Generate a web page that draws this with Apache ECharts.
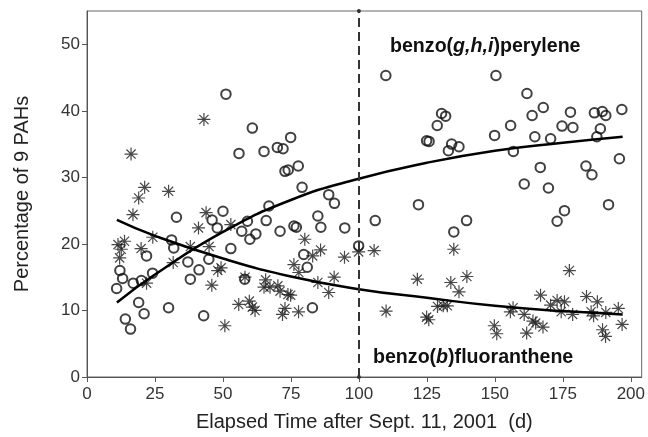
<!DOCTYPE html>
<html>
<head>
<meta charset="utf-8">
<script src="https://cdn.jsdelivr.net/npm/echarts@6/dist/echarts.min.js"></script>
<style>html,body{margin:0;padding:0;background:#fff}#c{width:648px;height:437px}</style>
</head>
<body>
<div id="c"></div>
<script>
const xTicks = [0, 25, 50, 75, 100, 125, 150, 175, 200];
const yTicks = [0, 10, 20, 30, 40, 50];
const cutoffDay = 100;

// benzo(g,h,i)perylene (open circles): [day, percent]
const perylene = [
[10.9,13.3],[12.1,16.0],[13.1,14.8],[14.1,8.7],[16.0,7.2],[17.0,14.1],[19.0,11.2],[20.0,14.5],[21.0,9.5],[21.9,18.2],[24.1,15.6],[30.0,10.4],[31.1,20.6],[31.9,19.4],[32.9,24.0],[37.1,17.3],[38.0,14.7],[41.2,16.1],[42.9,9.2],[44.8,17.7],[46.0,23.6],[47.9,22.4],[50.0,24.9],[51.1,42.5],[52.9,19.3],[55.9,33.6],[56.9,21.9],[58.0,14.7],[59.0,23.4],[59.9,20.7],[60.8,37.4],[62.1,21.5],[65.1,33.9],[65.9,23.5],[66.9,25.7],[70.0,34.5],[71.0,21.9],[72.1,34.3],[72.8,30.9],[74.0,31.1],[74.9,36.0],[76.1,22.7],[77.0,22.5],[77.7,31.7],[79.1,28.5],[79.7,18.4],[81.0,16.5],[82.9,10.4],[84.9,24.2],[86.0,22.5],[88.9,27.4],[91.0,26.1],[94.8,22.4],[99.9,19.7],[106.0,23.5],[109.9,45.3],[121.9,25.9],[124.9,35.5],[125.8,35.4],[128.8,37.8],[130.4,39.6],[131.9,39.2],[132.9,34.0],[134.1,35.0],[134.9,21.8],[136.8,34.6],[139.6,23.5],[149.9,36.3],[150.4,45.3],[155.8,37.8],[156.8,33.9],[160.8,29.0],[161.8,42.6],[163.7,39.3],[164.7,36.1],[166.7,31.5],[167.8,40.5],[169.7,28.4],[170.5,35.8],[172.9,23.4],[174.7,37.7],[175.6,25.0],[177.8,39.8],[178.7,37.5],[183.5,31.7],[185.7,30.4],[186.6,39.7],[187.5,36.1],[188.8,37.3],[189.5,39.9],[190.8,39.3],[191.8,25.9],[195.8,32.8],[196.7,40.2]
];

// benzo(b)fluoranthene (asterisks): [day, percent]
const fluoranthene = [
[11.4,19.9],[13.8,20.4],[12.6,19.2],[12.0,17.9],[16.2,33.5],[16.9,24.4],[19.0,26.9],[21.2,28.5],[19.9,19.3],[21.9,14.1],[24.2,21.0],[30.0,27.9],[31.7,17.2],[38.0,19.6],[41.0,22.4],[43.0,38.7],[43.8,24.7],[44.9,19.6],[45.9,13.8],[48.1,16.0],[49.3,16.4],[50.7,7.7],[52.9,22.9],[55.8,10.9],[58.1,15.0],[59.7,11.4],[60.8,10.5],[61.8,10.0],[65.7,14.6],[65.1,13.5],[67.3,13.5],[70.2,13.7],[71.0,12.9],[73.9,12.4],[74.9,12.3],[72.8,10.3],[71.9,9.4],[77.8,9.8],[76.1,16.9],[77.9,15.7],[80.1,20.7],[83.0,18.2],[85.9,19.1],[84.9,14.2],[88.9,12.7],[90.9,15.0],[94.7,18.0],[99.9,18.8],[105.6,19.0],[110.0,9.9],[121.5,14.7],[124.9,9.0],[125.7,8.6],[128.9,10.6],[131.0,10.7],[132.5,10.7],[133.8,14.2],[134.9,19.2],[136.8,12.8],[139.7,15.1],[149.8,7.7],[150.7,6.5],[156.7,10.4],[155.7,9.8],[160.8,9.4],[161.7,6.6],[164.0,8.4],[165.0,8.1],[167.7,7.5],[166.8,12.3],[170.5,10.8],[172.9,11.5],[175.6,11.3],[174.4,9.8],[177.4,16.0],[178.6,9.4],[183.7,12.1],[187.7,11.3],[185.4,9.8],[186.3,9.2],[190.8,9.7],[189.6,7.1],[190.7,6.1],[195.4,10.3],[196.8,7.9]
];

// fitted curves
const peryleneFit = [[11,11.2],[25,15.4],[50,21.8],[75,26.6],[100,29.8],[125,32.2],[150,34.0],[175,35.2],[197,36.1]];
const fluorantheneFit = [[11,23.6],[25,21.2],[50,17.8],[75,15.1],[100,13.2],[125,11.9],[150,10.7],[175,9.9],[197,9.4]];

const FONT = '"Liberation Sans", Arial, Helvetica, sans-serif';
const asterisk = 'path://M0,-10L0,10M-10,0L10,0M-7.07,-7.07L7.07,7.07M-7.07,7.07L7.07,-7.07';

const chart = echarts.init(document.getElementById('c'), null, {renderer: 'canvas'});
chart.setOption({
  animation: false,
  backgroundColor: '#fff',
  grid: {left: 87, right: 5, top: 11, bottom: 56, show: true, borderColor: '#666', borderWidth: 1},
  xAxis: {
    type: 'value', min: 0, max: 204, interval: 25,
    name: 'Elapsed Time after Sept. 11, 2001  (d)', nameLocation: 'middle', nameGap: 35,
    nameTextStyle: {fontFamily: FONT, fontSize: 20, color: '#222'},
    axisLine: {show: true, lineStyle: {color: '#555', width: 1}},
    axisTick: {show: true, length: 5, lineStyle: {color: '#555'}, customValues: xTicks},
    axisLabel: {fontFamily: FONT, fontSize: 17, color: '#333', margin: 9, customValues: xTicks},
    splitLine: {show: false}
  },
  yAxis: {
    type: 'value', min: 0, max: 55, interval: 10,
    name: 'Percentage of 9 PAHs', nameLocation: 'middle', nameGap: 55,
    nameTextStyle: {fontFamily: FONT, fontSize: 20, color: '#222'},
    axisLine: {show: true, lineStyle: {color: '#555', width: 1}},
    axisTick: {show: true, length: 5, lineStyle: {color: '#555'}, customValues: yTicks},
    axisLabel: {fontFamily: FONT, fontSize: 17, color: '#333', margin: 7, customValues: yTicks},
    splitLine: {show: false}
  },
  series: [
    {
      type: 'scatter', data: fluoranthene, symbol: asterisk, symbolSize: 13,
      itemStyle: {color: 'rgba(0,0,0,0)', borderColor: '#1a1a1a', borderWidth: 1.2}, z: 2
    },
    {
      type: 'scatter', data: perylene, symbol: 'circle', symbolSize: 9.5,
      itemStyle: {color: 'rgba(255,255,255,0)', borderColor: '#111', borderWidth: 2}, z: 3
    },
    {
      type: 'line', data: peryleneFit, smooth: true, symbol: 'none',
      lineStyle: {color: '#000', width: 2.5}, z: 4,
      markLine: {
        silent: true, symbol: ['circle', 'circle'], symbolSize: 4,
        label: {show: false},
        lineStyle: {color: '#333', type: [9, 5], width: 2},
        data: [[{coord: [cutoffDay, 0]}, {coord: [cutoffDay, 55]}]]
      }
    },
    {
      type: 'line', data: fluorantheneFit, smooth: true, symbol: 'none',
      lineStyle: {color: '#000', width: 2.5}, z: 4
    }
  ],
  graphic: [
    {
      type: 'text', left: 390, top: 37, z: 10,
      style: {
        text: '{b|benzo(}{i|g,h,i}{b|)perylene}',
        rich: {
          b: {fontFamily: FONT, fontSize: 19.6, fontWeight: 'bold', fill: '#111'},
          i: {fontFamily: FONT, fontSize: 19.6, fontWeight: 'bold', fontStyle: 'italic', fill: '#111'}
        }
      }
    },
    {
      type: 'text', left: 373, top: 348, z: 10,
      style: {
        text: '{b|benzo(}{i|b}{b|)fluoranthene}',
        rich: {
          b: {fontFamily: FONT, fontSize: 19.6, fontWeight: 'bold', fill: '#111'},
          i: {fontFamily: FONT, fontSize: 19.6, fontWeight: 'bold', fontStyle: 'italic', fill: '#111'}
        }
      }
    }
  ]
});
</script>
</body>
</html>
